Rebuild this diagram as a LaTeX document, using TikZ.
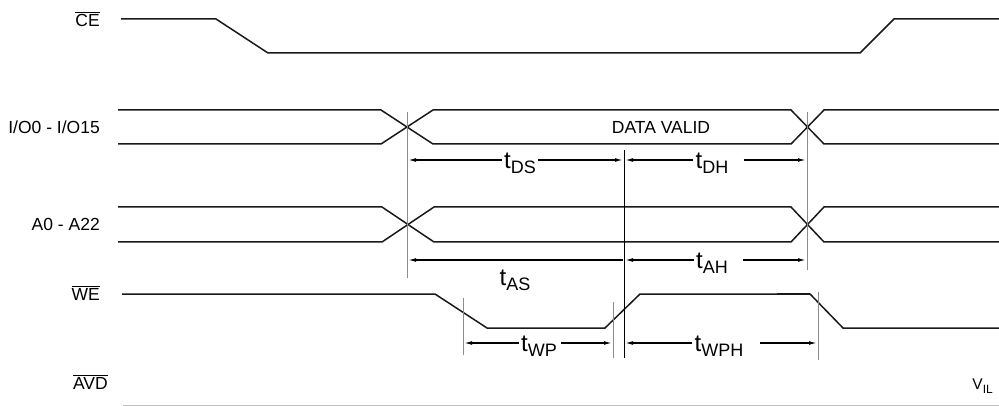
\documentclass[tikz,border=0pt]{standalone}
\usepackage{fontspec}
\setmainfont{Liberation Sans}
\usepackage{tikz}
\usepackage{xcolor}
\usetikzlibrary{arrows.meta}

\newcommand{\ovl}[1]{$\overline{\mbox{#1}}$}
\newcommand{\tsub}[1]{{\fontsize{24}{24}\selectfont t}\raisebox{-5pt}{#1}}

\tikzset{
  sig/.style={line width=1.5pt, black!90, line join=miter},
  guide/.style={line width=0.8pt, black!45},
  mark line/.style={line width=0.9pt, black},
  dimarrow/.style={line width=1.2pt, -{Latex[length=8pt,width=3.8pt]}},
  lbl/.style={font=\fontsize{17.5}{17.5}\selectfont, inner sep=0pt, black},
  tlbl/.style={font=\fontsize{18}{18}\selectfont, inner sep=2pt, black},
}

\begin{document}
\begin{tikzpicture}[x=1pt,y=-1pt]
    \useasboundingbox (0,0) rectangle (999,406);
    % signal names
    \node[lbl, anchor=east] (ce) at (100,19) {\ovl{CE}};
    \node[lbl, anchor=east] (io) at (100,127) {I/O0 - I/O15};
    \node[lbl, anchor=east] (addr) at (100,224) {A0 - A22};
    \node[lbl, anchor=east] (we) at (100,293) {\ovl{WE}};
    \node[lbl, anchor=east] (avd) at (108,382) {\ovl{AVD}};
    \node[lbl] (valid) at (661,127) {DATA VALID};
    \node[lbl, anchor=east, font=\fontsize{15.5}{15.5}\selectfont] (vil) at (993,386) {V\raisebox{-4pt}{\fontsize{12}{12}\selectfont IL}};

    % waveforms
    \draw[sig] (121,19) -- (216,19) -- (268,53) -- (860,53) -- (894,19) -- (999,19);
    \draw[sig] (118,110) -- (381,110) -- (433,144) -- (791,144) -- (824,110) -- (999,110);
    \draw[sig] (118,144) -- (381,144) -- (433,110) -- (791,110) -- (824,144) -- (999,144);
    \draw[sig] (118,207) -- (382,207) -- (434,242) -- (791,242) -- (824,207) -- (999,207);
    \draw[sig] (118,242) -- (382,242) -- (434,207) -- (791,207) -- (824,242) -- (999,242);
    \draw[sig] (122,294) -- (435,294) -- (487,328) -- (605,328) -- (640,294) -- (810,294) -- (843,328) -- (999,328);
    \draw[line width=2.6pt, black!90] (777,294) -- (810,294);
    \draw[line width=0.9pt, black!25] (123,405) -- (999,405);

    % reference lines
    \draw[guide] (407,112) -- (407,278);
    \draw[guide] (807,112) -- (807,270);
    \draw[mark line] (624,150) -- (624,358);
    \draw[guide] (463,298) -- (463,355);
    \draw[guide] (613,302) -- (613,358);
    \draw[guide] (818,292) -- (818,360);

    % timing arrows
    \coordinate (ds0) at (408,160);  \coordinate (ds1) at (623,160);
    \coordinate (dh0) at (625,160);  \coordinate (dh1) at (806,160);
    \coordinate (as0) at (408,260);  \coordinate (as1) at (623,260);
    \coordinate (ah0) at (625,260);  \coordinate (ah1) at (806,260);
    \coordinate (wp0) at (464,343);  \coordinate (wp1) at (612,343);
    \coordinate (wph0) at (625,343); \coordinate (wph1) at (817,343);

    \node[tlbl] (tds) at (520,163) {\tsub{DS}};
    \draw[dimarrow] (tds.west |- ds0) -- (ds0);
    \draw[dimarrow] (tds.east |- ds1) -- (ds1);
    \node[tlbl] (tdh) at (712,163) {\tsub{DH}};
    \draw[dimarrow] (tdh.west |- dh0) -- (dh0);
    \draw[dimarrow] ([xshift=13pt]tdh.east |- dh1) -- (dh1);

    \draw[dimarrow, {Latex[length=8pt,width=3.8pt]}-] (as0) -- (as1);
    \node[tlbl] (tas) at (515,280) {\tsub{AS}};
    \node[tlbl] (tah) at (712,263) {\tsub{AH}};
    \draw[dimarrow] (tah.west |- ah0) -- (ah0);
    \draw[dimarrow] ([xshift=13pt]tah.east |- ah1) -- (ah1);

    \node[tlbl] (twp) at (539,346) {\tsub{WP}};
    \draw[dimarrow] (twp.west |- wp0) -- (wp0);
    \draw[dimarrow] ([xshift=2pt]twp.east |- wp1) -- (wp1);
    \node[tlbl] (twph) at (719,346) {\tsub{WPH}};
    \draw[dimarrow] (twph.west |- wph0) -- (wph0);
    \draw[dimarrow] ([xshift=14pt]twph.east |- wph1) -- (wph1);
\end{tikzpicture}
\end{document}
